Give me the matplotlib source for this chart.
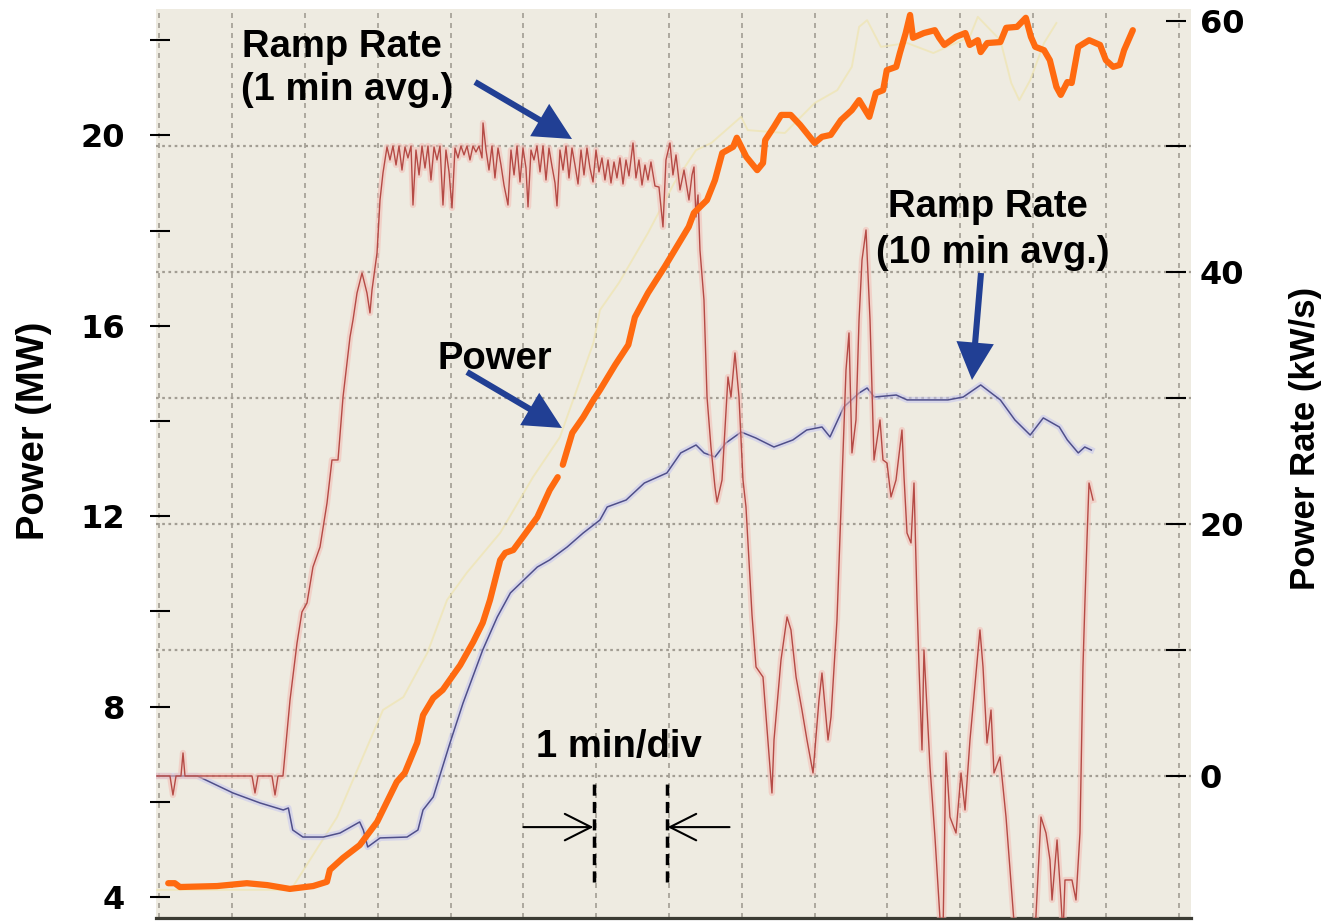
import matplotlib
matplotlib.use('Agg')
import matplotlib.pyplot as plt
import matplotlib.patheffects as pe
from matplotlib.patches import FancyArrowPatch
from matplotlib import font_manager
import numpy as np

# ---------------- data (time in minutes, power in MW, rate in kW/s) ----------------
power_t = [0.12, 0.21, 0.28, 0.79, 1.20, 1.48, 1.79, 2.11, 2.30, 2.34, 2.52, 2.75, 2.99, 3.26, 3.37,
           3.54, 3.62, 3.76, 3.89, 4.13, 4.31, 4.44, 4.54, 4.68, 4.75, 4.86, 4.99, 5.19, 5.36, 5.47,
           np.nan, 5.54, 5.60, 5.67, 5.82, 5.96, 6.05, 6.26, 6.44, 6.53, 6.71, 6.94, 7.27, 7.34, 7.52,
           7.63, 7.73, 7.88, 7.93, 8.06, 8.21, 8.29, 8.32, 8.44, 8.54, 8.67, 8.80, 9.00, 9.10, 9.22,
           9.36, 9.51, 9.61, 9.75, 9.84, 9.94, 9.99, 10.12, 10.17, 10.25, 10.31, 10.35, 10.50, 10.65,
           10.71, 10.78, 10.94, 11.07, 11.13, 11.24, 11.28, 11.37, 11.55, 11.63, 11.78, 11.90, 11.97,
           12.03, 12.15, 12.23, 12.32, 12.38, 12.47, 12.53, 12.62, 12.77, 12.92, 13.00, 13.10, 13.19,
           13.25, 13.37]
power_mw = [4.29, 4.29, 4.21, 4.23, 4.29, 4.25, 4.17, 4.23, 4.32, 4.57, 4.82, 5.09, 5.58, 6.42, 6.61,
            7.24, 7.82, 8.18, 8.35, 8.87, 9.36, 9.76, 10.24, 11.08, 11.23, 11.29, 11.56, 11.98, 12.55, 12.82,
            np.nan, 13.08, 13.39, 13.75, 14.08, 14.44, 14.65, 15.18, 15.60, 16.18, 16.69, 17.24, 18.08, 18.37, 18.64,
            19.06, 19.63, 19.76, 19.95, 19.55, 19.27, 19.42, 19.90, 20.18, 20.43, 20.43, 20.22, 19.84, 19.97, 20.01,
            20.32, 20.53, 20.74, 20.39, 20.89, 20.95, 21.37, 21.44, 21.73, 22.15, 22.53, 22.05, 22.15, 22.21,
            22.05, 21.90, 22.07, 22.15, 21.90, 22.00, 21.75, 21.94, 21.96, 22.26, 22.28, 22.47, 22.07,
            21.86, 21.79, 21.58, 21.02, 20.85, 21.12, 21.10, 21.86, 22.00, 21.90, 21.58, 21.44, 21.48,
            21.79, 22.21]

trace_t = [-0.03, 1.79, 1.83, 2.44, 3.07, 3.35, 3.68, 3.95, 4.22, 4.68, 5.13, 5.50, 5.96, 6.05, 6.31,
           6.71, 7.07, 7.37, 7.58, 7.99, 8.08, 8.59, 9.00, 9.31, 9.51, 9.61, 9.72, 9.91, 10.27, 10.63,
           11.13, 11.24, 11.55, 11.70, 11.81, 11.96, 12.15, 12.32]
trace_mw = [4.15, 4.15, 4.21, 5.68, 7.93, 8.20, 9.13, 10.24, 10.81, 11.65, 12.82, 13.66, 15.64, 16.33, 16.90,
            17.95, 19.00, 19.69, 19.84, 20.39, 20.11, 20.05, 20.68, 20.95, 21.44, 22.28, 22.42, 21.86, 21.94, 21.73,
            22.07, 22.49, 22.00, 21.10, 20.74, 21.16, 21.94, 22.36]

rate10_t = [-0.03, 0.52, 1.01, 1.38, 1.70, 1.77, 1.83, 1.97, 2.25, 2.48, 2.75, 2.80, 2.86, 3.03, 3.40,
            3.55, 3.62, 3.76, 3.99, 4.17, 4.44, 4.64, 4.82, 5.19, 5.36, 5.60, 5.82, 6.05, 6.15, 6.41,
            6.66, 6.97, 7.16, 7.37, 7.48, 7.63, 7.78, 7.99, 8.19, 8.44, 8.70, 8.89, 9.10, 9.21, 9.40,
            9.61, 9.72, 9.82, 10.12, 10.27, 10.53, 10.83, 11.04, 11.28, 11.55, 11.75, 11.96, 12.14, 12.36,
            12.47, 12.62, 12.71, 12.80]
rate10 = [0.0, 0.0, -1.35, -2.14, -2.70, -2.54, -4.29, -4.85, -4.85, -4.53, -3.65, -4.29, -5.64, -4.92, -4.85,
          -4.29, -2.70, -1.67, 2.62, 5.80, 10.01, 12.63, 14.54, 16.60, 17.16, 18.19, 19.30, 20.33, 21.37, 21.92,
          23.27, 24.07, 25.66, 26.29, 25.66, 25.34, 26.45, 27.32, 26.85, 26.13, 26.69, 27.48, 27.72, 26.93, 29.31,
          30.42, 30.82, 30.10, 30.26, 29.87, 29.87, 29.87, 30.10, 31.06, 29.87, 28.28, 27.08, 28.44, 27.72,
          26.69, 25.66, 26.13, 25.89]

rate1_t = [-0.034, 0.144, 0.185, 0.227, 0.295, 0.323, 0.350, 1.271, 1.312, 1.353, 1.545, 1.587, 1.628, 1.696,
           1.793, 1.889, 1.957, 2.026, 2.108, 2.205, 2.301, 2.369, 2.452, 2.521, 2.617, 2.658, 2.713, 2.782,
           2.850, 2.891, 2.919, 2.988, 3.029, 3.070,
           3.125, 3.166, 3.207, 3.249, 3.290, 3.331, 3.372, 3.413, 3.455, 3.482, 3.523, 3.565, 3.606, 3.647,
           3.688, 3.729, 3.771, 3.812, 3.853, 3.894, 3.935, 3.977, 4.018, 4.059, 4.100, 4.141, 4.183, 4.224,
           4.265, 4.306, 4.347, 4.389, 4.430, 4.444, 4.485, 4.526, 4.567, 4.608, 4.650, 4.691, 4.732, 4.787,
           4.828, 4.870, 4.911, 4.952, 4.993, 5.034, 5.062, 5.103, 5.144, 5.185, 5.227, 5.268, 5.309, 5.350,
           5.391, 5.433, 5.460, 5.501, 5.543, 5.584, 5.625, 5.666, 5.707, 5.749, 5.790, 5.831, 5.872, 5.913,
           5.955, 5.996, 6.037, 6.078, 6.119, 6.161, 6.202, 6.243, 6.284, 6.325, 6.367, 6.408, 6.449, 6.504,
           6.545, 6.586, 6.628, 6.669, 6.710, 6.751, 6.806, 6.861, 6.916, 6.957, 7.012, 7.053, 7.095, 7.150,
           7.205, 7.273, 7.315, 7.342, 7.369, 7.397, 7.424, 7.479,
           7.521, 7.575, 7.630, 7.658, 7.727, 7.809, 7.850, 7.905, 7.960, 8.015, 8.056, 8.139, 8.194, 8.290,
           8.386, 8.413, 8.441, 8.537, 8.620, 8.674, 8.744, 8.825, 8.894, 8.977, 9.059, 9.100, 9.183, 9.224,
           9.306, 9.388, 9.430, 9.471, 9.512, 9.567, 9.609, 9.650, 9.705, 9.760, 9.815, 9.897, 9.938, 9.993,
           10.048, 10.117, 10.199, 10.227, 10.268, 10.323, 10.364, 10.405, 10.433, 10.474, 10.501, 10.584,
           10.652, 10.735, 10.762, 10.803, 10.858, 10.941, 11.010, 11.065, 11.133, 11.270, 11.312, 11.367,
           11.422, 11.463, 11.545, 11.628, 11.697, 11.751, 12.026, 12.108, 12.177, 12.232, 12.260, 12.329,
           12.383, 12.411, 12.438, 12.534, 12.589, 12.644, 12.685, 12.713, 12.740, 12.768, 12.823]
rate1 = [0, 0, -1.51, 0, 0, 1.83, 0, 0, -1.35, 0, 0, -1.51, 0, 0,
         6.04, 10.56, 13.03, 13.74, 16.60, 18.19, 21.68, 25.10, 25.10, 30.10, 34.87, 36.22, 38.36, 39.95,
         38.36, 36.78, 38.60, 41.54, 45.75, 47.90,
         49.96, 48.93, 50.04, 48.53, 50.04, 48.13, 49.96, 49.09, 50.04, 45.35, 49.72, 47.74, 50.04, 48.29,
         50.04, 47.34, 49.96, 48.93, 50.04, 45.35, 49.72, 47.98, 45.12, 49.88, 49.09, 50.04, 49.33, 50.04,
         48.93, 50.04, 49.56, 50.04, 49.09, 51.87, 49.72, 48.13, 50.04, 47.50, 49.88, 48.53, 46.94, 45.35,
         49.72, 47.74, 50.04, 47.18, 49.88, 48.29, 45.20, 49.72, 48.93, 50.04, 47.98, 50.04, 47.34, 49.88,
         48.45, 47.10, 45.28, 49.72, 48.13, 50.04, 47.50, 49.88, 48.53, 47.02, 49.72, 47.74, 49.88, 48.29,
         47.18, 49.72, 47.98, 49.09, 47.34, 48.93, 47.10, 48.77, 47.50, 49.09, 47.02, 48.93, 47.66, 50.28,
         47.50, 48.93, 46.94, 48.53, 47.34, 48.77, 46.86, 46.78, 43.61, 48.93, 50.28, 47.74, 49.33, 46.55,
         48.13, 45.75, 47.74, 48.37, 44.40, 46.15, 41.78, 37.81,
         30.10, 26.13, 22.96, 21.76, 23.51, 31.69, 30.10, 33.60, 30.10, 23.51, 21.37, 12.79, 8.66, 7.86,
         0.71, -1.35, 2.86, 9.21, 12.63, 11.60, 7.86, 5.24, 2.86, 0.24, 6.04, 8.18, 2.86, 4.69,
         12.39, 25.66, 32.25, 35.19, 25.66, 28.28, 36.22, 40.99, 43.37, 36.22, 25.10, 28.28, 25.10, 24.86,
         22.16, 23.51, 27.48, 23.75, 19.30, 18.51, 23.27, 13.98, 8.66, 2.07, 10.01, 0.71,
         -4.85, -12.63, -12.63, 1.83, -3.26, -4.53, 0.24, -2.70, 2.86, 11.60, 8.66, 2.62,
         5.24, 0.24, 1.51, -3.26, -8.50, -12.63, -12.63, -3.26, -4.53, -6.67, -9.85, -5.08,
         -9.85, -12.63, -8.26, -8.26, -9.85, -4.53, 8.66, 13.98, 18.75, 23.27, 21.92]

mw_ticks = [4, 6, 8, 10, 12, 14, 16, 18, 20, 22]
mw_labels = ['4', '', '8', '', '12', '', '16', '', '20', '']
rate_ticks = [0, 10, 20, 30, 40, 50, 60]
rate_labels = ['0', '', '20', '', '40', '', '60']
grid_minutes = list(range(15))
grid_rates = [0, 10, 20, 30, 40, 50]
div_minutes = [6, 7]

# ---------------- figure ----------------
W, H = 1338, 921
fig = plt.figure(figsize=(W / 100, H / 100), dpi=100)
fig.patch.set_facecolor('white')

def fx(px):
    return px / W

def fy(py):
    return 1 - py / H

ax = fig.add_axes([fx(156), 3 / H, (1191 - 156) / W, (918 - 9) / H])
ax.set_facecolor('#eeebe1')
ax.set_xlim(-0.048, 14.169)
ax.set_ylim(3.559, 22.655)
ax2 = ax.twinx()
ax2.set_ylim(-11.28, 60.92)
ax3 = ax.twinx()
ax3.set_ylim(ax.get_ylim())

for a in (ax, ax2, ax3):
    for s in a.spines.values():
        s.set_visible(False)
ax.spines['bottom'].set_visible(True)
ax.spines['bottom'].set_color('#3b3b33')
ax.spines['bottom'].set_linewidth(2.3)
ax.spines['left'].set_position(('outward', -2.9))
ax2.spines['right'].set_position(('outward', -10.8))

ax.set_xticks([])
ax.set_yticks(mw_ticks)
ax.set_yticklabels(mw_labels)
ax.tick_params(axis='y', direction='inout', length=14.4, width=1.5, pad=18, labelsize=23, colors='black')
for lab in ax.get_yticklabels():
    lab.set_fontweight('bold')
ax2.set_yticks(rate_ticks)
ax2.set_yticklabels(rate_labels)
ax2.tick_params(axis='y', direction='inout', length=14.4, width=1.5, pad=10, labelsize=23, colors='black')
for lab in ax2.get_yticklabels():
    lab.set_fontweight('bold')
ax3.set_yticks([])

# grid
for m in grid_minutes:
    ax.axvline(m, color='#a29d93', lw=1.2, ls=(0, (3, 3)), zorder=0.5)
for r in grid_rates:
    ax2.axhline(r, color='#a29d93', lw=1.6, ls=(0, (1.2, 1.6)), zorder=0.5)

# series
ax.plot(trace_t, trace_mw, color='#efe5b0', lw=1.4, alpha=0.7, zorder=2)
ax2.plot(rate10_t, rate10, color='#4f4f8a', lw=1.1, zorder=3,
         path_effects=[pe.Stroke(linewidth=4.5, foreground='#c5c5ef', alpha=0.55), pe.Normal()])
ax2.plot(rate1_t, rate1, color='#b54a45', lw=1.0, zorder=4,
         path_effects=[pe.Stroke(linewidth=4.5, foreground='#f3bdb5', alpha=0.55), pe.Normal()])
ax3.plot(power_t, power_mw, color='#ff6a10', lw=4.5, solid_capstyle='round', solid_joinstyle='round', zorder=5)

# ---------------- annotations ----------------
names = {f.name for f in font_manager.fontManager.ttflist}
narrow = 'Liberation Sans Narrow' in names
lab_family = 'Liberation Sans Narrow' if narrow else 'Liberation Sans'
left_size = 33 if narrow else 27.5
right_size = 30 if narrow else 25

fig.text(fx(34), fy(431), 'Power (MW)', rotation=90, ha='center', va='center',
         fontsize=left_size, fontweight='bold', family=lab_family)
fig.text(fx(1306), fy(438), 'Power Rate (kW/s)', rotation=90, ha='center', va='center',
         fontsize=right_size, fontweight='bold', family=lab_family)

tkw = dict(fontsize=27.5, fontweight='bold', family='Liberation Sans', va='baseline', color='black')
fig.text(fx(242), fy(57), 'Ramp Rate', ha='left', **tkw)
fig.text(fx(241), fy(100), '(1 min avg.)', ha='left', **tkw)
fig.text(fx(437), fy(369), 'Power', ha='left', **tkw)
fig.text(fx(988), fy(217), 'Ramp Rate', ha='center', **tkw)
fig.text(fx(993), fy(263), '(10 min avg.)', ha='center', **tkw)
fig.text(fx(619), fy(757), '1 min/div', ha='center', **tkw)

blue = '#213f94'
for (x0, y0, x1, y1) in [(475, 82, 572, 139), (467, 372, 562, 428), (981, 273, 972, 380)]:
    arr = FancyArrowPatch((fx(x0), fy(y0)), (fx(x1), fy(y1)), transform=fig.transFigure,
                          arrowstyle='simple,head_length=27,head_width=27,tail_width=4.4',
                          mutation_scale=1, color=blue, lw=0, shrinkA=0, shrinkB=0)
    fig.add_artist(arr)

# 1 min/div markers
for m in div_minutes:
    ax.plot([m - 0.03, m - 0.03], [0.04, 0.154], transform=ax.get_xaxis_transform(),
            color='black', lw=2.5, ls=(0, (3.2, 1.8)), zorder=6, clip_on=False)
ax.annotate('', xy=(div_minutes[0] - 0.04, 0.10), xytext=(div_minutes[0] - 1.0, 0.10),
            xycoords=ax.get_xaxis_transform(), textcoords=ax.get_xaxis_transform(),
            arrowprops=dict(arrowstyle='->,head_length=1.35,head_width=0.68', lw=1.5, color='black',
                            mutation_scale=14, shrinkA=0, shrinkB=0), zorder=6)
ax.annotate('', xy=(div_minutes[1] - 0.02, 0.10), xytext=(div_minutes[1] + 0.83, 0.10),
            xycoords=ax.get_xaxis_transform(), textcoords=ax.get_xaxis_transform(),
            arrowprops=dict(arrowstyle='->,head_length=1.35,head_width=0.68', lw=1.5, color='black',
                            mutation_scale=14, shrinkA=0, shrinkB=0), zorder=6)

fig.savefig('out.png', dpi=100, facecolor='white')
